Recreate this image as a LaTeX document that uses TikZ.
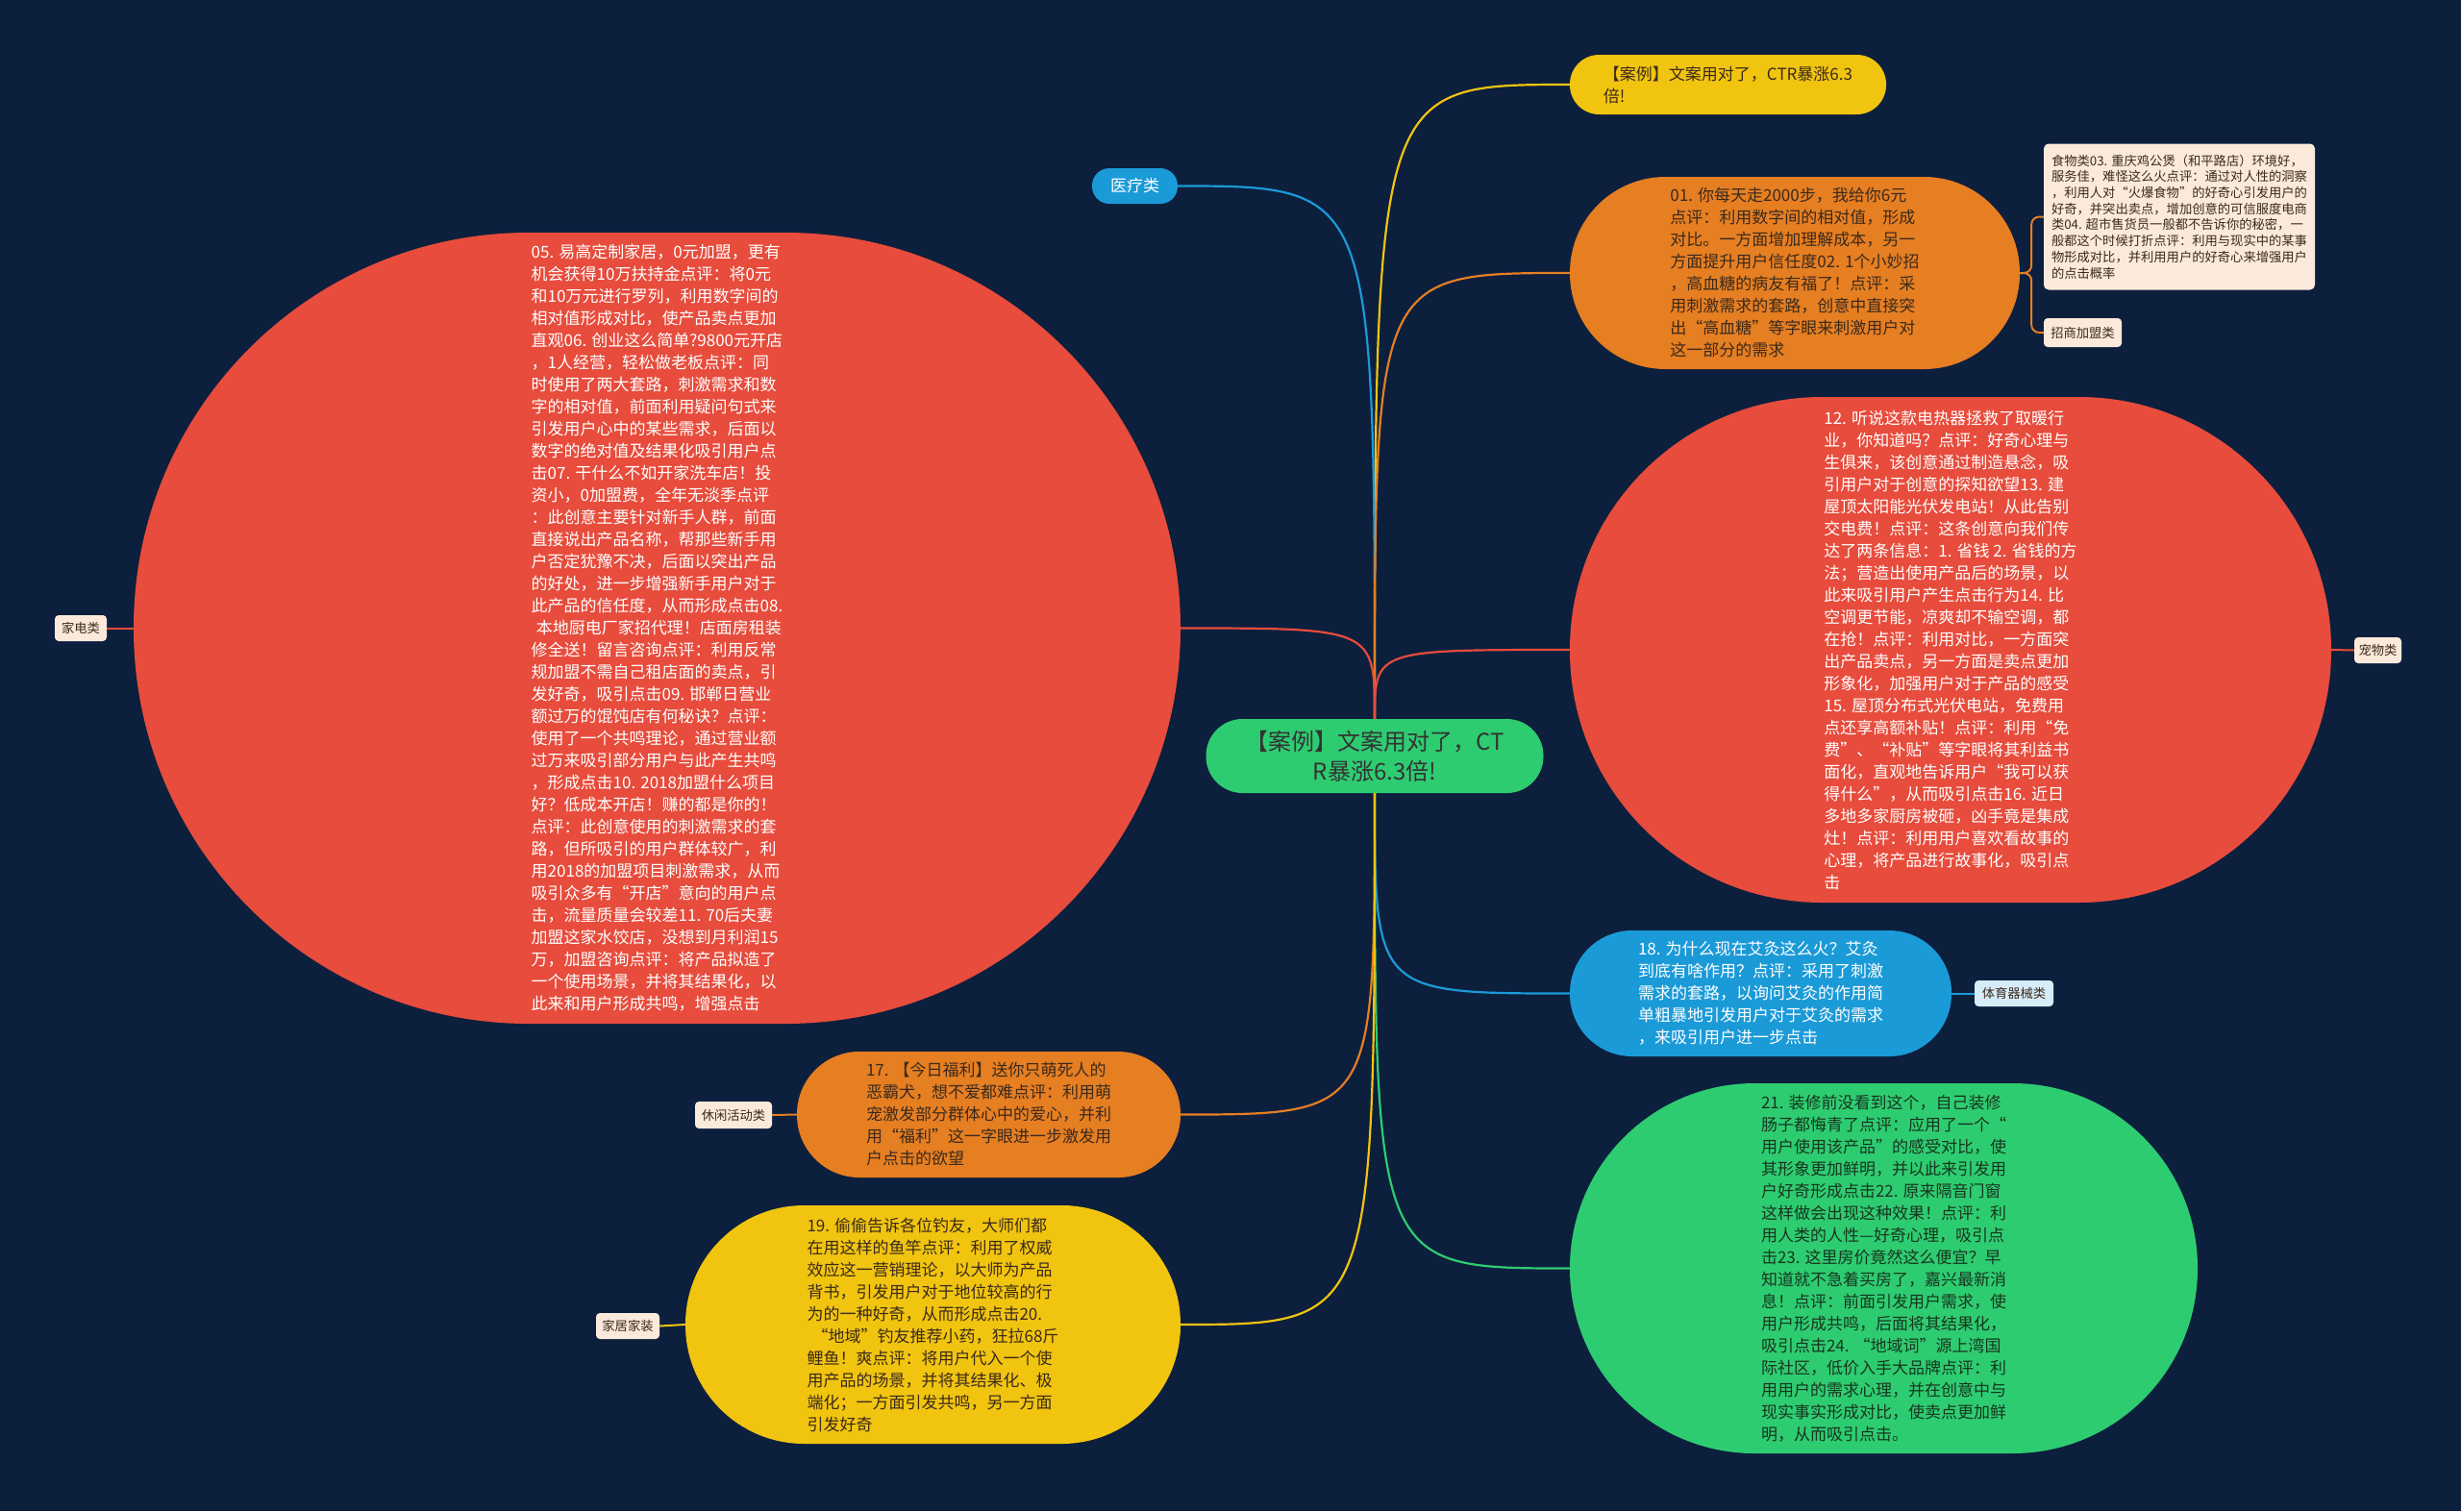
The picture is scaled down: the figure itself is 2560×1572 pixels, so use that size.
\documentclass[tikz,border=0pt]{standalone}
\usepackage{fontspec}
\setmainfont{Noto Sans CJK SC}
\definecolor{cbg}{HTML}{0C1F3D}
\definecolor{cred}{HTML}{E74C3C}
\definecolor{corange}{HTML}{E67E22}
\definecolor{cyel}{HTML}{F1C40F}
\definecolor{cblue}{HTML}{1B9AD8}
\definecolor{cgreen}{HTML}{2ECC71}
\definecolor{ccream}{HTML}{FBEADB}
\definecolor{clblue}{HTML}{D6ECF8}
\definecolor{cdark}{HTML}{3A2A1C}
\definecolor{cgtext}{HTML}{17351F}
\tikzset{
  bub/.style={inner sep=0pt, align=left, font=\fontsize{17}{23}\selectfont},
  tagbox/.style={inner sep=0pt, align=center, font=\fontsize{13.3}{16}\selectfont, fill=ccream, text=cdark, rounded corners=4pt},
  conn/.style={line width=2.2pt},
  thinconn/.style={line width=2pt},
}
\begin{document}
\begin{tikzpicture}[x=1pt,y=-1pt]
\fill[cbg] (0,0) rectangle (2560,1572);
\useasboundingbox (0,0) rectangle (2560,1572);

% central node
\node[inner sep=0pt, align=center, font=\fontsize{24}{31}\selectfont, fill=cgreen, text=black!80,
  minimum width=351pt, minimum height=77pt, rounded corners=38pt] (ctr) at (1430,786.5)
  {【案例】文案用对了，CT\\R暴涨6.3倍!};

% top yellow
\node[bub, fill=cyel, text=cdark, minimum width=329pt, minimum height=62pt, rounded corners=30.5pt] (tyel) at (1797.5,88)
  {【案例】文案用对了，CTR暴涨6.3\\倍!};

% 医疗类
\node[inner sep=0pt, font=\fontsize{17}{20}\selectfont, fill=cblue, text=white, minimum width=89pt, minimum height=37pt, rounded corners=18pt] (yl) at (1180.5,193.5) {医疗类};

% orange 01
\node[bub, fill=corange, text=cdark, minimum width=468pt, minimum height=200pt, rounded corners=99.5pt] (o01) at (1867,284)
  {01. 你每天走2000步，我给你6元\\
点评：利用数字间的相对值，形成\\
对比。一方面增加理解成本，另一\\
方面提升用户信任度02. 1个小妙招\\
，高血糖的病友有福了！点评：采\\
用刺激需求的套路，创意中直接突\\
出“高血糖”等字眼来刺激用户对\\
这一部分的需求};

% note
\node[inner sep=0pt, align=left, font=\fontsize{13.3}{16.7}\selectfont, fill=ccream, text=cdark,
  minimum width=282pt, minimum height=152pt, rounded corners=5pt] (note) at (2267,225.5)
  {食物类03. 重庆鸡公煲（和平路店）环境好，\\
服务佳，难怪这么火点评：通过对人性的洞察\\
，利用人对“火爆食物”的好奇心引发用户的\\
好奇，并突出卖点，增加创意的可信服度电商\\
类04. 超市售货员一般都不告诉你的秘密，一\\
般都这个时候打折点评：利用与现实中的某事\\
物形成对比，并利用用户的好奇心来增强用户\\
的点击概率};

\node[tagbox, minimum width=81pt, minimum height=30pt] (zs) at (2166.5,346) {招商加盟类};

% left red
\node[bub, fill=cred, text=white, minimum width=1089pt, minimum height=823pt, rounded corners=411pt] (lred) at (683.5,653.5)
  {05. 易高定制家居，0元加盟，更有\\
机会获得10万扶持金点评：将0元\\
和10万元进行罗列，利用数字间的\\
相对值形成对比，使产品卖点更加\\
直观06. 创业这么简单?9800元开店\\
，1人经营，轻松做老板点评：同\\
时使用了两大套路，刺激需求和数\\
字的相对值，前面利用疑问句式来\\
引发用户心中的某些需求，后面以\\
数字的绝对值及结果化吸引用户点\\
击07. 干什么不如开家洗车店！投\\
资小，0加盟费，全年无淡季点评\\
：此创意主要针对新手人群，前面\\
直接说出产品名称，帮那些新手用\\
户否定犹豫不决，后面以突出产品\\
的好处，进一步增强新手用户对于\\
此产品的信任度，从而形成点击08.\\
\hspace*{0.3em}本地厨电厂家招代理！店面房租装\\
修全送！留言咨询点评：利用反常\\
规加盟不需自己租店面的卖点，引\\
发好奇，吸引点击09. 邯郸日营业\\
额过万的馄饨店有何秘诀？点评：\\
使用了一个共鸣理论，通过营业额\\
过万来吸引部分用户与此产生共鸣\\
，形成点击10. 2018加盟什么项目\\
好？低成本开店！赚的都是你的！\\
点评：此创意使用的刺激需求的套\\
路，但所吸引的用户群体较广，利\\
用2018的加盟项目刺激需求，从而\\
吸引众多有“开店”意向的用户点\\
击，流量质量会较差11. 70后夫妻\\
加盟这家水饺店，没想到月利润15\\
万，加盟咨询点评：将产品拟造了\\
一个使用场景，并将其结果化，以\\
此来和用户形成共鸣，增强点击};

\node[tagbox, minimum width=54pt, minimum height=27pt] (jd) at (84,653.5) {家电类};

% right red
\node[bub, fill=cred, text=white, minimum width=792pt, minimum height=526pt, rounded corners=262.5pt] (rred) at (2029,676)
  {12. 听说这款电热器拯救了取暖行\\
业，你知道吗？点评：好奇心理与\\
生俱来，该创意通过制造悬念，吸\\
引用户对于创意的探知欲望13. 建\\
屋顶太阳能光伏发电站！从此告别\\
交电费！点评：这条创意向我们传\\
达了两条信息：1. 省钱 2. 省钱的方\\
法；营造出使用产品后的场景，以\\
此来吸引用户产生点击行为14. 比\\
空调更节能，凉爽却不输空调，都\\
在抢！点评：利用对比，一方面突\\
出产品卖点，另一方面是卖点更加\\
形象化，加强用户对于产品的感受\\
15. 屋顶分布式光伏电站，免费用\\
点还享高额补贴！点评：利用“免\\
费”、“补贴”等字眼将其利益书\\
面化，直观地告诉用户“我可以获\\
得什么”，从而吸引点击16. 近日\\
多地多家厨房被砸，凶手竟是集成\\
灶！点评：利用用户喜欢看故事的\\
心理，将产品进行故事化，吸引点\\
击};

\node[tagbox, minimum width=49pt, minimum height=27pt] (cw) at (2473.5,676.5) {宠物类};

% blue 18
\node[bub, fill=cblue, text=white, minimum width=397pt, minimum height=131pt, rounded corners=65pt] (b18) at (1831.5,1033.5)
  {18. 为什么现在艾灸这么火？艾灸\\
到底有啥作用？点评：采用了刺激\\
需求的套路，以询问艾灸的作用简\\
单粗暴地引发用户对于艾灸的需求\\
，来吸引用户进一步点击};

\node[tagbox, fill=clblue, minimum width=82pt, minimum height=27pt] (ty) at (2095,1033.5) {体育器械类};

% green
\node[bub, fill=cgreen, text=cgtext, minimum width=653pt, minimum height=385pt, rounded corners=192pt] (grn) at (1959.5,1319.5)
  {21. 装修前没看到这个，自己装修\\
肠子都悔青了点评：应用了一个“\\
用户使用该产品”的感受对比，使\\
其形象更加鲜明，并以此来引发用\\
户好奇形成点击22. 原来隔音门窗\\
这样做会出现这种效果！点评：利\\
用人类的人性—好奇心理，吸引点\\
击23. 这里房价竟然这么便宜？早\\
知道就不急着买房了，嘉兴最新消\\
息！点评：前面引发用户需求，使\\
用户形成共鸣，后面将其结果化，\\
吸引点击24. “地域词”源上湾国\\
际社区，低价入手大品牌点评：利\\
用用户的需求心理，并在创意中与\\
现实事实形成对比，使卖点更加鲜\\
明，从而吸引点击。};

% orange 17
\node[bub, fill=corange, text=cdark, minimum width=399pt, minimum height=131pt, rounded corners=65pt] (o17) at (1028.5,1159.5)
  {17. 【今日福利】送你只萌死人的\\
恶霸犬，想不爱都难点评：利用萌\\
宠激发部分群体心中的爱心，并利\\
用“福利”这一字眼进一步激发用\\
户点击的欲望};

\node[tagbox, minimum width=80pt, minimum height=28pt] (xx) at (763,1160) {休闲活动类};

% yellow 19
\node[bub, fill=cyel, text=cdark, minimum width=515pt, minimum height=248pt, rounded corners=123.5pt] (y19) at (970.5,1378)
  {19. 偷偷告诉各位钓友，大师们都\\
在用这样的鱼竿点评：利用了权威\\
效应这一营销理论，以大师为产品\\
背书，引发用户对于地位较高的行\\
为的一种好奇，从而形成点击20.\\
\hspace*{0.3em}“地域”钓友推荐小药，狂拉68斤\\
鲤鱼！爽点评：将用户代入一个使\\
用产品的场景，并将其结果化、极\\
端化；一方面引发共鸣，另一方面\\
引发好奇};

\node[tagbox, minimum width=66pt, minimum height=27pt] (jj) at (653,1379.5) {家居家装};

% connectors from centre (top)
\draw[conn, cyel] (ctr.north) .. controls (ctr.north |- tyel.west) .. (tyel.west);
\draw[conn, cblue] (ctr.north) .. controls (ctr.north |- yl.east) .. (yl.east);
\draw[conn, corange] (ctr.north) .. controls (ctr.north |- o01.west) .. (o01.west);
\draw[conn, cred] (ctr.north) .. controls (ctr.north |- lred.east) .. (lred.east);
\draw[conn, cred] (ctr.north) .. controls (ctr.north |- rred.west) .. (rred.west);
% connectors from centre (bottom)
\draw[conn, cblue] (ctr.south) .. controls (ctr.south |- b18.west) .. (b18.west);
\draw[conn, cgreen] (ctr.south) .. controls (ctr.south |- grn.west) .. (grn.west);
\draw[conn, corange] (ctr.south) .. controls (ctr.south |- o17.east) .. (o17.east);
\draw[conn, cyel] (ctr.south) .. controls (ctr.south |- y19.east) .. (y19.east);

% sub connectors
\draw[thinconn, corange, rounded corners=8pt] (o01.east) -- ++(12,0) |- (note.west);
\draw[thinconn, corange, rounded corners=8pt] (o01.east) -- ++(12,0) |- (zs.west);
\draw[thinconn, cred] (lred.west) -- (jd.east);
\draw[thinconn, cred] (rred.east) -- (cw.west);
\draw[thinconn, cblue] (b18.east) -- (ty.west);
\draw[thinconn, corange] (o17.west) -- (xx.east);
\draw[thinconn, cyel] (y19.west) -- (jj.east);
\end{tikzpicture}
\end{document}
